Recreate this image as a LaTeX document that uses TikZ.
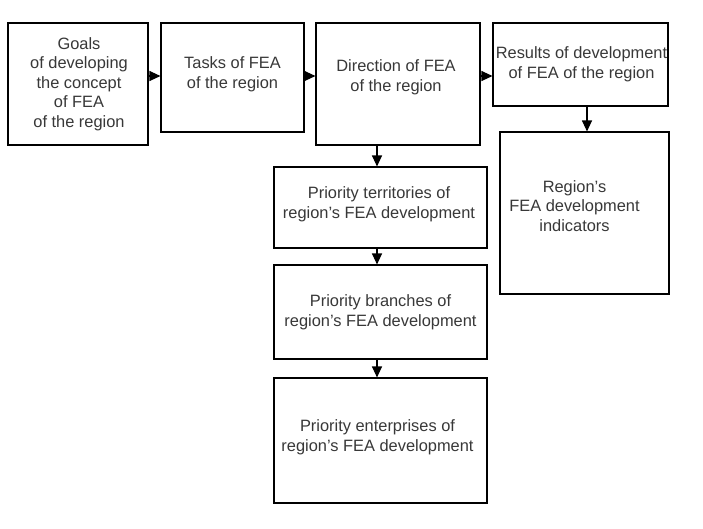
\documentclass[tikz,border=0pt]{standalone}
\usepackage{fontspec}
\setmainfont{Liberation Sans}
\usetikzlibrary{arrows.meta, calc}

\begin{document}
\begin{tikzpicture}[
    x=1pt, y=-1pt,
    box/.style={draw=black, line width=1.1pt, fill=white, inner sep=0pt},
    box text/.style={align=center, text=black!78, inner sep=0pt,
        font=\fontsize{16.4}{19.6}\selectfont},
    link/.style={line width=1.1pt, -{Triangle[length=11pt, width=10pt]}}
]

\useasboundingbox (0,0) rectangle (703,528);

% --- 1. Boxes (left/top/right/bottom in px) ---
\foreach \name/\l/\t/\r/\b in {
    goals/8/23/148/145,
    tasks/161/23/304/132,
    direction/316/23/480/145,
    results/493/23/668/106,
    indicators/500/132/669/294,
    territories/274/167/487/248,
    branches/274/265/487/359,
    enterprises/274/378/487/503
}{
    \node[box, minimum width={(\r-\l)*1pt}, minimum height={(\b-\t)*1pt}]
        (\name) at ({(\l+\r)/2},{(\t+\b)/2}) {};
}

% --- 2. Texts ---
\node[box text] (goals text) at ($(goals.center)+(1,0)$)
    {Goals\\of developing\\the concept\\of FEA\\of the region};
\node[box text] (tasks text) at ($(tasks.center)+(0,-3.5)$)
    {Tasks of FEA\\of the region};
\node[box text] (direction text) at ($(direction.center)+(-2,-6.5)$)
    {Direction of FEA\\of the region};
\node[box text] (results text) at ($(results.center)+(1,0)$)
    {Results of development\\of FEA of the region};
\node[box text] (indicators text) at ($(indicators.center)+(-10,-7)$)
    {Region's\\FEA development\\indicators};
\node[box text] (territories text) at ($(territories.center)+(-1.5,-3)$)
    {Priority territories of\\region's FEA development};
\node[box text] (branches text) at ($(branches.center)+(0,0.5)$)
    {Priority branches of\\region's FEA development};
\node[box text] (enterprises text) at ($(enterprises.center)+(-3,-3)$)
    {Priority enterprises of\\region's FEA development};

% --- 3. Arrows ---
\coordinate (row) at (0,76);
\coordinate (mid col) at (377,0);
\coordinate (right col) at (587,0);

\draw[link] (goals.east |- row) -- (tasks.west |- row);
\draw[link] (tasks.east |- row) -- (direction.west |- row);
\draw[link] (direction.east |- row) -- (results.west |- row);

\draw[link] (direction.south -| mid col) -- (territories.north -| mid col);
\draw[link] (territories.south -| mid col) -- (branches.north -| mid col);
\draw[link] (branches.south -| mid col) -- (enterprises.north -| mid col);

\draw[link] (results.south -| right col) -- (indicators.north -| right col);

\end{tikzpicture}
\end{document}
